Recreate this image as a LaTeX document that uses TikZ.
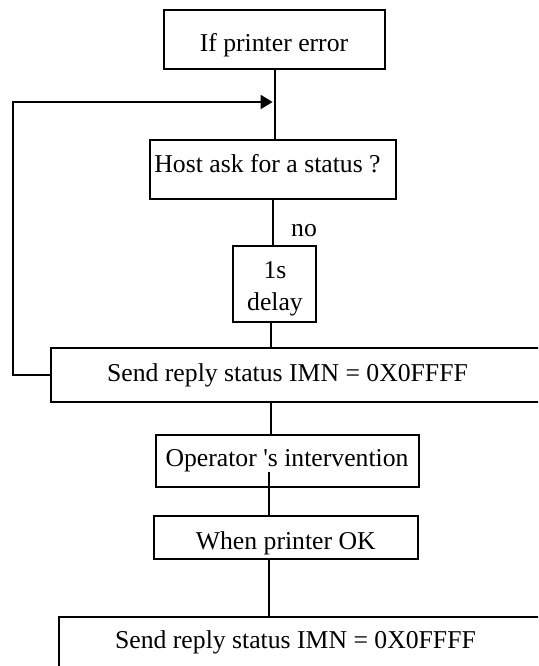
\documentclass[tikz,border=0pt]{standalone}
\usepackage{fontspec}
\setmainfont{Liberation Serif}
\usetikzlibrary{arrows.meta}
\begin{document}
\begin{tikzpicture}[x=0.5pt,y=-0.5pt,
  box/.style={draw, line width=1pt, inner sep=0pt},
  txt/.style={inner sep=0pt, anchor=base, align=center,
    font=\fontsize{12.85}{16}\selectfont},
  wire/.style={line width=1pt}]
\useasboundingbox (0,0) rectangle (538,666);
\clip (0,0) rectangle (538,666);

% process boxes
\node[box, minimum width=110.5pt, minimum height=29.5pt] (start) at (274.5,39.5) {};
\node[box, minimum width=123pt, minimum height=29.5pt] (ask) at (273,169.5) {};
\node[box, minimum width=41.5pt, minimum height=38pt] (delay) at (274.5,284) {};
\node[box, minimum width=247pt, minimum height=27pt] (reply1) at (298,375) {};
\node[box, minimum width=131.5pt, minimum height=25.75pt] (oper) at (287.5,461) {};
\node[box, minimum width=132pt, minimum height=21.5pt] (ok) at (286,537.5) {};
\node[box, minimum width=243pt, minimum height=41.5pt] (reply2) at (302,658.5) {};

% box texts, placed on their (last) baselines
\node[txt] (starttxt) at (274,51.7) {If printer error};
\node[txt] (asktxt) at (267.5,172.7) {Host ask for a status ?};
\node[txt] (delaytxt) at (275,310) {1s\\delay};
\node[txt] (reply1txt) at (287.5,381.7) {Send reply status IMN = 0X0FFFF};
\node[txt] (opertxt) at (287,466.7) {Operator \textquotesingle s intervention};
\node[txt] (oktxt) at (285.8,549) {When printer OK};
\node[txt] (reply2txt) at (295.5,648) {Send reply status IMN = 0X0FFFF};

% connectors
\coordinate (merge) at (275,102);
\coordinate (loopcorner) at (13,102);
\coordinate (j5) at (269,472);

\draw[wire] (start.south) -- (start.south |- ask.north);
\draw[wire] (ask.south) -- (ask.south |- delay.north);
\node[txt] (no) at (304,236) {no};
\draw[wire] (271,0 |- delay.south) -- (271,0 |- reply1.north);
\draw[wire] (271,0 |- reply1.south) -- (271,0 |- oper.north);
\draw[wire] (j5) -- (j5 |- ok.north);
\draw[wire] (j5 |- ok.south) -- (j5 |- reply2.north);
\draw[wire, -{Triangle[length=6pt,width=7pt]}, shorten >=1.2pt]
  (reply1.west) -| (loopcorner) -- (merge);
\end{tikzpicture}
\end{document}
